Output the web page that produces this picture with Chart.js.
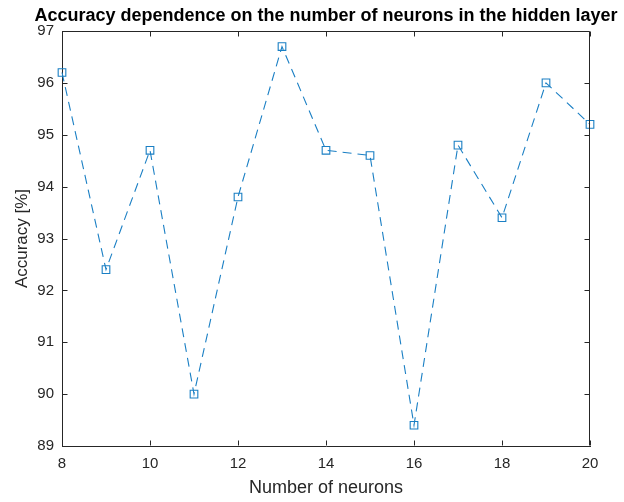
<!DOCTYPE html>
<html>
<head>
<meta charset="utf-8">
<script src="https://cdn.jsdelivr.net/npm/chart.js@4.4.0/dist/chart.umd.min.js"></script>
<style>
html,body{margin:0;padding:0;background:#fff;}
#wrap{width:624px;height:502px;}
</style>
</head>
<body>
<div id="wrap"><canvas id="c" width="624" height="502"></canvas></div>
<script>
const neurons = [8, 9, 10, 11, 12, 13, 14, 15, 16, 17, 18, 19, 20];
const accuracy = [96.2, 92.4, 94.7, 90.0, 93.8, 96.7, 94.7, 94.6, 89.4, 94.8, 93.4, 96.0, 95.2];
const xTicks = [8, 10, 12, 14, 16, 18, 20];
const yTicks = [89, 90, 91, 92, 93, 94, 95, 96, 97];

const FONT = "'Liberation Sans', Arial, Helvetica, sans-serif";
const AXIS = '#262626';

const boxTicks = {
  id: 'boxTicks',
  afterLayout(chart) {
    const ca = chart.chartArea;
    const tb = chart.titleBlock;
    if (tb) {
      const c = (ca.left + ca.right) / 2;
      tb.left = c - 320;
      tb.right = c + 320;
    }
  },
  afterDraw(chart) {
    const {ctx, chartArea: ca, scales: {x, y}} = chart;
    const L = 5;
    ctx.save();
    ctx.strokeStyle = AXIS;
    ctx.lineWidth = 1;
    ctx.beginPath();
    const l = Math.round(ca.left) + 0.5, r = Math.round(ca.right) - 0.5;
    const t = Math.round(ca.top) + 0.5, b = Math.round(ca.bottom) - 0.5;
    ctx.moveTo(l, t); ctx.lineTo(r, t); ctx.lineTo(r, b);
    xTicks.forEach(v => {
      const px = Math.round(x.getPixelForValue(v)) + 0.5;
      ctx.moveTo(px, b); ctx.lineTo(px, b - L);
      ctx.moveTo(px, t); ctx.lineTo(px, t + L);
    });
    yTicks.forEach(v => {
      const py = Math.round(y.getPixelForValue(v)) + 0.5;
      ctx.moveTo(l, py); ctx.lineTo(l + L, py);
      ctx.moveTo(r, py); ctx.lineTo(r - L, py);
    });
    ctx.stroke();
    ctx.restore();
  }
};

new Chart(document.getElementById('c'), {
  type: 'line',
  data: {
    labels: neurons,
    datasets: [{
      data: neurons.map((n, i) => ({x: n, y: accuracy[i]})),
      borderColor: '#1a7fc4',
      borderWidth: 1.1,
      borderDash: [9, 6],
      backgroundColor: 'rgba(0,0,0,0)',
      pointStyle: 'rect',
      pointRadius: 5.4,
      pointBorderWidth: 1.1,
      pointBorderColor: '#1a7fc4',
      pointBackgroundColor: 'rgba(0,0,0,0)',
      tension: 0,
      fill: false,
      clip: false
    }]
  },
  options: {
    responsive: false,
    animation: false,
    devicePixelRatio: 1,
    layout: {padding: {left: 0, right: 34, top: 0, bottom: 0}},
    plugins: {
      legend: {display: false},
      tooltip: {enabled: false},
      title: {
        display: true,
        text: 'Accuracy dependence on the number of neurons in the hidden layer',
        color: '#000',
        font: {family: FONT, size: 18, weight: 'bold', lineHeight: 1.1},
        padding: {top: 6, bottom: 5.2}
      }
    },
    scales: {
      x: {
        type: 'linear',
        min: 8, max: 20,
        afterBuildTicks: s => { s.ticks = xTicks.map(v => ({value: v})); },
        afterFit: s => { s.height = 56; },
        grid: {display: false, drawTicks: false},
        border: {display: true, color: AXIS, width: 1},
        ticks: {color: AXIS, font: {family: FONT, size: 15}, padding: 9, maxRotation: 0, autoSkip: false},
        title: {display: true, text: 'Number of neurons', color: AXIS,
                font: {family: FONT, size: 18}, padding: {top: 0, bottom: 3}}
      },
      y: {
        type: 'linear',
        min: 89, max: 97,
        afterBuildTicks: s => { s.ticks = yTicks.map(v => ({value: v})); },
        afterFit: s => { s.width = 62; },
        grid: {display: false, drawTicks: false},
        border: {display: true, color: AXIS, width: 1},
        ticks: {color: AXIS, font: {family: FONT, size: 15}, padding: 8, autoSkip: false},
        title: {display: true, text: 'Accuracy [%]', color: AXIS,
                font: {family: FONT, size: 17}, padding: {top: 12, bottom: 0}}
      }
    }
  },
  plugins: [boxTicks]
});
</script>
</body>
</html>
